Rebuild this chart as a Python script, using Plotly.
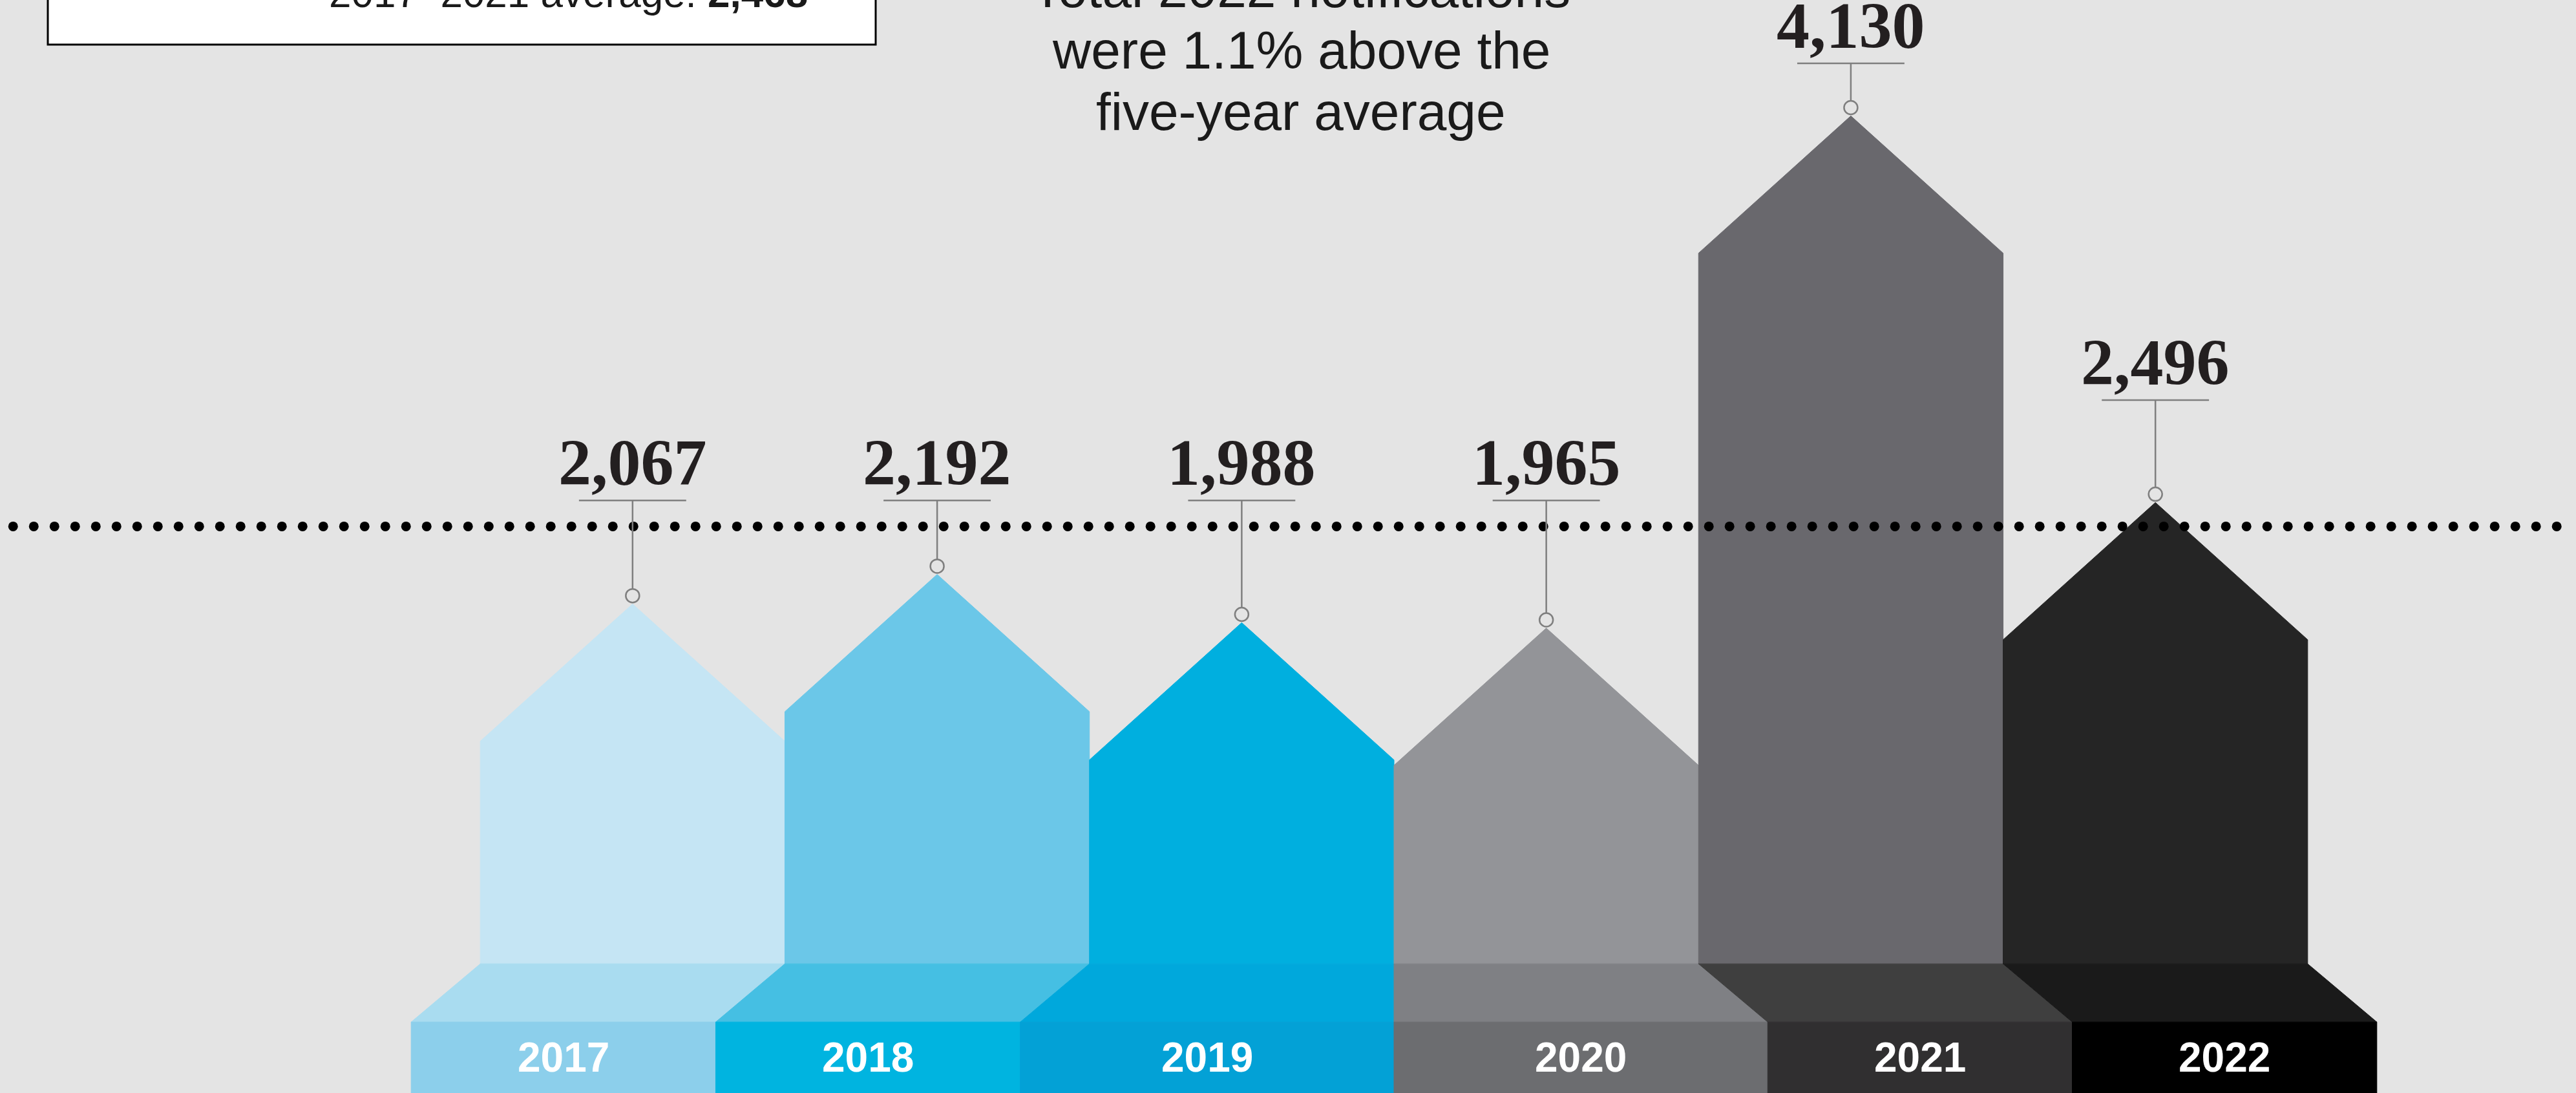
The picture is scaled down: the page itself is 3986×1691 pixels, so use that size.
import numpy as np
import plotly.graph_objects as go

# ---------------- data ----------------
YEARS = ["2017", "2018", "2019", "2020", "2021", "2022"]
NOTIFICATIONS = [2067, 2192, 1988, 1965, 4130, 2496]
VALUE_LABELS = ["2,067", "2,192", "1,988", "1,965", "4,130", "2,496"]
AVERAGE_VALUE = 2468
AVERAGE_LABEL = "2,468"
AVERAGE_LINE_LEVEL = 2395          # level of the dotted line on the chart scale
TITLE_LINES = ["Total 2022 notifications", "were 1.1% above the", "five-year average"]
BOX_TEXT = "2017\u20132021 average: "

BODY_COLORS = ["#c5e5f4", "#6bc7e8", "#00afdf", "#939498", "#69686d", "#252525"]
FLOOR_COLORS = ["#a9dcf0", "#45bfe3", "#00a8dc", "#7f8084", "#3f3f3f", "#1a1a1a"]
BAND_COLORS = ["#8ccfeb", "#00b4e0", "#03a1d6", "#6c6d70", "#302f30", "#000000"]

# ---------------- style / geometry ----------------
BG = "#e4e4e4"
W, H = 3986, 1691
Y_MAX = 4620
X_RANGE = [-2.077, 6.381]
ROOF = 580          # roof height (value units)
FLOOR_TOP = 546
BAND_TOP = 300
SHIFT = 0.227       # perspective shift of the floor
CENTER = 2.5
L_COMMON = 2505
LABEL_GAP = 433
L_MAX = 4352
LEADER = "#7f7f7f"

fig = go.Figure()


def persp(x):
    if x < CENTER - 1e-6:
        return x - SHIFT
    if x > CENTER + 1e-6:
        return x + SHIFT
    return x


for i, (v, bc, fc, kc) in enumerate(zip(NOTIFICATIONS, BODY_COLORS, FLOOR_COLORS, BAND_COLORS)):
    xl, xr = i - 0.5, i + 0.5
    bl, br = persp(xl), persp(xr)
    # body with roof
    fig.add_trace(go.Scatter(
        x=[xl, xl, i, xr, xr, xl],
        y=[FLOOR_TOP, v - ROOF, v, v - ROOF, FLOOR_TOP, FLOOR_TOP],
        fill="toself", fillcolor=bc, mode="lines",
        line=dict(color=bc, width=1), hoverinfo="skip"))
    # floor (perspective)
    fig.add_trace(go.Scatter(
        x=[xl, xr, br, bl, xl],
        y=[FLOOR_TOP, FLOOR_TOP, BAND_TOP, BAND_TOP, FLOOR_TOP],
        fill="toself", fillcolor=fc, mode="lines",
        line=dict(color=fc, width=1), hoverinfo="skip"))
    # label band
    fig.add_trace(go.Scatter(
        x=[bl, br, br, bl, bl],
        y=[BAND_TOP, BAND_TOP, 0, 0, BAND_TOP],
        fill="toself", fillcolor=kc, mode="lines",
        line=dict(color=kc, width=1), hoverinfo="skip"))
    fig.add_annotation(x=(bl + br) / 2, y=BAND_TOP / 2, text="<b>%s</b>" % YEARS[i],
                       showarrow=False, xanchor="center", yanchor="middle",
                       font=dict(family="Liberation Sans", size=64, color="white"))

# dotted average line
dots_x = np.arange(-2.034, 6.36, 0.0679)
fig.add_trace(go.Scatter(
    x=dots_x, y=[AVERAGE_LINE_LEVEL] * len(dots_x), mode="markers",
    marker=dict(size=15, color="#000000"), hoverinfo="skip"))

# leaders and value labels
for i, (v, lab) in enumerate(zip(NOTIFICATIONS, VALUE_LABELS)):
    lvl = min(v + LABEL_GAP, L_MAX) if v > AVERAGE_VALUE else L_COMMON
    fig.add_trace(go.Scatter(x=[i - 0.176, i + 0.176], y=[lvl, lvl], mode="lines",
                             line=dict(color=LEADER, width=2.5), hoverinfo="skip"))
    fig.add_trace(go.Scatter(x=[i, i], y=[lvl, v + 62], mode="lines",
                             line=dict(color=LEADER, width=2.5), hoverinfo="skip"))
    fig.add_trace(go.Scatter(x=[i], y=[v + 35], mode="markers",
                             marker=dict(size=21, color=BG, line=dict(color=LEADER, width=2.5)),
                             hoverinfo="skip"))
    fig.add_annotation(x=i, y=lvl, text="<b>%s</b>" % lab, showarrow=False,
                       xanchor="center", yanchor="bottom", yshift=0,
                       font=dict(family="Liberation Serif", size=102, color="#231f20"))

# title lines (partly cut off at the top)
for k, (line, base) in enumerate(zip(TITLE_LINES, [12, 107, 202])):
    fig.add_annotation(xref="paper", yref="paper", x=2013 / W, y=1 - (base + 18) / H,
                       text=line, showarrow=False, xanchor="center", yanchor="bottom",
                       font=dict(family="Liberation Sans", size=82, color="#1a1a1a"))

# info box top-left
fig.add_shape(type="rect", xref="paper", yref="paper",
              x0=74 / W, x1=1355 / W, y0=1 - 69 / H, y1=1.05,
              fillcolor="white", line=dict(color="black", width=3), layer="above")
fig.add_annotation(xref="paper", yref="paper", x=1252 / W, y=1 - (12 + 14) / H,
                   text=BOX_TEXT + "<b>" + AVERAGE_LABEL + "</b>", showarrow=False,
                   xanchor="right", yanchor="bottom",
                   font=dict(family="Liberation Sans", size=62, color="#1a1a1a"))

fig.update_layout(
    width=W, height=H, margin=dict(l=0, r=0, t=0, b=0),
    paper_bgcolor=BG, plot_bgcolor=BG, showlegend=False,
    xaxis=dict(range=X_RANGE, visible=False, fixedrange=True),
    yaxis=dict(range=[0, Y_MAX], visible=False, fixedrange=True),
)

fig.write_html("out.html",
               config={"displayModeBar": False},
               post_script="document.body.style.margin='0px';"
                           "document.body.style.overflow='hidden';"
                           "document.body.style.background='%s';" % BG)
